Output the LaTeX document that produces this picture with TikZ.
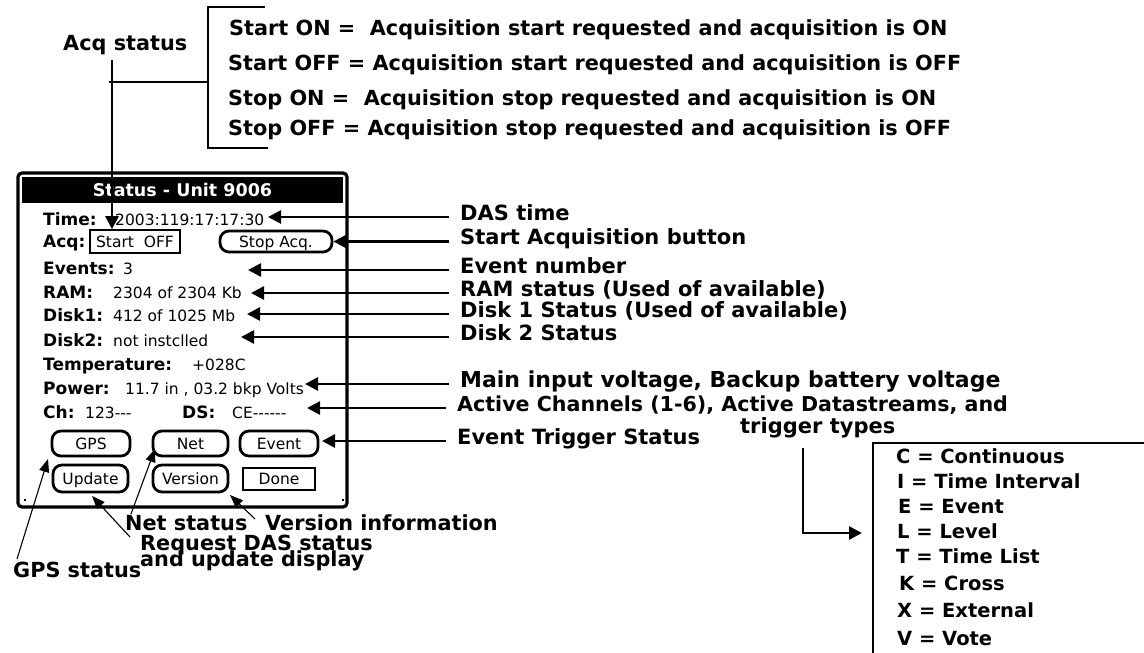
\documentclass[tikz,border=0pt]{standalone}
\usepackage{fontspec}
\setmainfont{DejaVu Sans}
\usetikzlibrary{arrows.meta,calc}
\newcommand{\figf}{\fontsize{20.8}{22}\selectfont\bfseries}
\newcommand{\rlf}{\fontsize{21}{22}\selectfont\bfseries}
\newcommand{\trf}{\fontsize{19.5}{21}\selectfont\bfseries}
\newcommand{\palmf}{\fontsize{15.5}{17}\selectfont}
\newcommand{\palmbf}{\fontsize{17}{18}\selectfont\bfseries}
\newcommand{\titlef}{\fontsize{17.5}{18}\selectfont\bfseries}
\tikzset{
  fig/.style={font=\figf, inner sep=0pt, anchor=base west},
  rl/.style={font=\rlf, inner sep=0pt, anchor=base west},
  tr/.style={font=\trf, inner sep=0pt, anchor=base west},
  plab/.style={font=\palmbf, inner sep=0pt, anchor=base west},
  pval/.style={font=\palmf, inner sep=0pt, anchor=base west},
  pbtn/.style={draw, line width=2.8pt, rounded corners=9pt, inner sep=0pt,
    font=\palmf, text height=11pt, text depth=0pt},
  tarr/.style={line width=2.7pt, -{Triangle[length=13pt,width=13pt]}},
  narr/.style={line width=1.1pt, -{Triangle[length=13pt,width=10pt]}},
  bline/.style={line width=2.7pt},
}
\begin{document}
\begin{tikzpicture}[x=1pt,y=-1pt]
\useasboundingbox (0,0) rectangle (1144,653);

% ---- Acq status legend
\node[fig] (acqlbl) at (63,50) {Acq status};
\node[fig] (s1) at (229,35) {Start ON =\ \ Acquisition start requested and acquisition is ON};
\node[fig] (s2) at (228,70) {Start OFF = Acquisition start requested and acquisition is OFF};
\node[fig] (s3) at (228,105) {Stop ON =\ \ Acquisition stop requested and acquisition is ON};
\node[fig] (s4) at (228,135) {Stop OFF = Acquisition stop requested and acquisition is OFF};
\coordinate (brT) at (265,7);
\coordinate (brB) at (268,148);
\coordinate (brM) at (208,82);
\coordinate (acqtop) at (112,60);
\draw[bline] (brT) -- (208,7) -- (208,148) -- (brB);
\draw[bline] (109,82) -- (brM);

% ---- Palm screen
\node[draw, line width=3.2pt, rounded corners=4pt, minimum width=329pt, minimum height=334pt, inner sep=0pt] (screen) at (182.5,340) {};
\node[fill=black, text=white, font=\titlef, minimum width=321pt, minimum height=26pt, inner sep=0pt] (title) at (182.5,189.5) {Status - Unit 9006};
\fill (24,499) rectangle (26,501);
\fill (342,499) rectangle (344,501);

\node[plab] (tL) at (43,225) {Time:};
\node[pval] (tV) at (115,225) {2003:119:17:17:30};
\node[plab] (aL) at (43,247) {Acq:};
\node[draw, line width=1.6pt, minimum width=90pt, minimum height=23pt, inner sep=0pt, font=\palmf, text height=11pt, text depth=0pt] (acqbox) at (135,241.5) {Start\ \ OFF};
\node[pbtn, minimum width=112pt, minimum height=21pt] (stopbtn) at (276,241.5) {Stop Acq.};
\node[plab] (eL) at (43,274) {Events:};
\node[pval] (eV) at (123,274) {3};
\node[plab] (rL) at (43,298) {RAM:};
\node[pval] (rV) at (113,298) {2304 of 2304 Kb};
\node[plab] (d1L) at (43,321) {Disk1:};
\node[pval] (d1V) at (113,321) {412 of 1025 Mb};
\node[plab] (d2L) at (43,346) {Disk2:};
\node[pval] (d2V) at (113,346) {not instclled};
\node[plab] (teL) at (43,370) {Temperature:};
\node[pval] (teV) at (192,370) {+028C};
\node[plab] (pL) at (43,394) {Power:};
\node[pval] (pV) at (125,394) {11.7 in , 03.2 bkp Volts};
\node[plab] (cL) at (43,418) {Ch:};
\node[pval] (cV) at (85,418) {123{-}{-}{-}};
\node[plab] (dsL) at (182,418) {DS:};
\node[pval] (dsV) at (232,418) {CE{-}{-}{-}{-}{-}{-}};

\node[pbtn, minimum width=78pt, minimum height=25pt] (gps) at (91,443.5) {GPS};
\node[pbtn, minimum width=75pt, minimum height=25pt] (net) at (190.5,443.5) {Net};
\node[pbtn, minimum width=78pt, minimum height=25pt] (evb) at (279,443.5) {Event};
\node[pbtn, minimum width=75pt, minimum height=27pt] (upd) at (90.5,478.5) {Update};
\node[pbtn, minimum width=75pt, minimum height=27pt] (ver) at (190.5,478.5) {Version};
\node[draw, line width=1.3pt, minimum width=72pt, minimum height=22pt, inner sep=0pt, font=\palmf, text height=11pt, text depth=0pt] (done) at (279,479) {Done};

\draw[tarr] (acqtop) -- (acqtop |- acqbox.north);

% ---- right-hand labels
\coordinate (tDAS) at (268,217);
\coordinate (tEN) at (248,270);
\coordinate (tRAM) at (251,293);
\coordinate (tD1) at (247,314);
\coordinate (tD2) at (241,337);
\coordinate (tPW) at (305,384);
\coordinate (tCH) at (307,408);
\coordinate (tEV) at (322,441);

\node[rl] (lDAS) at (460,220) {DAS time};
\node[rl] (lSA) at (460,244) {Start Acquisition button};
\node[rl] (lEN) at (460,273) {Event number};
\node[rl] (lRAM) at (460,296) {RAM status (Used of available)};
\node[rl] (lD1) at (460,317) {Disk 1 Status (Used of available)};
\node[rl] (lD2) at (460,340) {Disk 2 Status};
\node[rl, font=\fontsize{22}{23}\selectfont\bfseries] (lPW) at (460,387) {Main input voltage, Backup battery voltage};
\node[rl, font=\fontsize{20.6}{22}\selectfont\bfseries] (lCH) at (457,411) {Active Channels (1-6), Active Datastreams, and};
\node[rl] (lTT) at (740,433) {trigger types};
\node[rl] (lEV) at (457,444) {Event Trigger Status};

\draw[tarr] (lDAS.base west) ++(-11,-3) -- (tDAS);
\draw[tarr] (lSA.base west) ++(-11,-2.5) -- (stopbtn.east);
\draw[tarr] (lEN.base west) ++(-11,-3) -- (tEN);
\draw[tarr] (lRAM.base west) ++(-11,-3) -- (tRAM);
\draw[tarr] (lD1.base west) ++(-11,-3) -- (tD1);
\draw[tarr] (lD2.base west) ++(-11,-3) -- (tD2);
\draw[tarr] (lPW.base west) ++(-11,-3) -- (tPW);
\draw[tarr] (lCH.base west) ++(-11,-3) -- (tCH);
\draw[tarr] (lEV.base west) ++(-11,-3) -- (tEV);

% ---- trigger type list
\coordinate (ttS) at (803,448);
\coordinate (ttT) at (862,533);
\draw[tarr] (ttS) |- (ttT);
\draw[bline] (1144,443) -- (873,443) -- (873,653);
\node[tr] (k1) at (896,463) {C = Continuous};
\node[tr] (k2) at (897,488) {I = Time Interval};
\node[tr] (k3) at (898,513) {E = Event};
\node[tr] (k4) at (897,538) {L = Level};
\node[tr] (k5) at (896,563) {T = Time List};
\node[tr] (k6) at (899,590) {K = Cross};
\node[tr] (k7) at (897,617) {X = External};
\node[tr] (k8) at (897,645) {V = Vote};

% ---- bottom labels
\node[fig] (lNet) at (125,530) {Net status};
\node[fig] (lVer) at (265,530) {Version information};
\node[fig] (lReq) at (140,550) {Request DAS status};
\node[fig] (lUpd) at (140,566) {and update display};
\node[fig] (lGPS) at (13,577) {GPS status};

\coordinate (gpsF) at (17,559);
\coordinate (gpsT) at (48,459);
\coordinate (updF) at (130,537);
\coordinate (updT) at (92,496);
\coordinate (netF) at (131,514);
\coordinate (netT) at (155,449);
\coordinate (verF) at (255,519);
\coordinate (verT) at (230,495);
\draw[narr] (gpsF) -- (gpsT);
\draw[narr] (updF) -- (updT);
\draw[narr] (netF) -- (netT);
\draw[narr] (verF) -- (verT);
\end{tikzpicture}
\end{document}
